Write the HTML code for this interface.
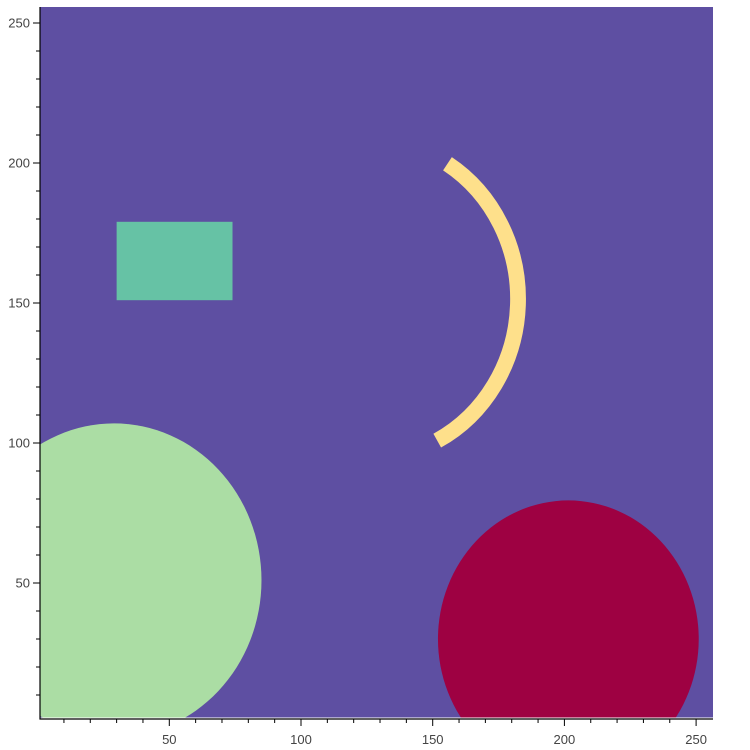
<!DOCTYPE html>
<html><head><meta charset="utf-8"><style>
body{margin:0;background:#fff;width:750px;height:750px;overflow:hidden}
svg{display:block;font-family:"Liberation Sans",sans-serif}
</style></head><body>
<svg id="chart" width="750" height="750"></svg>
<script>
const xTicks=[50,100,150,200,250];
const yTicks=[50,100,150,200,250];
const rectX=[30,74], rectY=[151,179];
const circleGreen=[29,51,56];
const circleRed=[201.5,30,49.5];
const arcYellow=[125.4,151.4,57,6,58,-62.5];
const X0=37.6,XS=2.634,Y0=723,YS=2.8;
const L=40,R=713,T=7,B=719;
function sx(v){return X0+v*XS}
function sy(v){return Y0-v*YS}
const NS='http://www.w3.org/2000/svg';
const svg=document.getElementById('chart');
function mk(t,a,p){const e=document.createElementNS(NS,t);for(const k in a)e.setAttribute(k,a[k]);(p||svg).appendChild(e);return e}
const defs=mk('defs',{});
const cp=mk('clipPath',{id:'clip'},defs);mk('rect',{x:L,y:T,width:R-L,height:B-T-1.5},cp);
const g=mk('g',{'clip-path':'url(#clip)'});


const bg=mk('rect',{x:L,y:T,width:R-L,height:B-T,fill:'#5e4fa2'},g);


const r=mk('rect',{x:sx(rectX[0]),y:sy(rectY[1]),width:(rectX[1]-rectX[0])*XS,height:(rectY[1]-rectY[0])*YS,fill:'#66c2a5'},g);


const c1=mk('ellipse',{cx:sx(circleGreen[0]),cy:sy(circleGreen[1]),rx:circleGreen[2]*XS,ry:circleGreen[2]*YS,fill:'#abdda4'},g);


const c2=mk('ellipse',{cx:sx(circleRed[0]),cy:sy(circleRed[1]),rx:circleRed[2]*XS,ry:circleRed[2]*YS,fill:'#9e0142'},g);


{const [cx,cy,rr,w,a1,a2]=arcYellow;const rad=Math.PI/180;
const p1=[sx(cx+rr*Math.cos(a1*rad)),sy(cy+rr*Math.sin(a1*rad))];
const p2=[sx(cx+rr*Math.cos(a2*rad)),sy(cy+rr*Math.sin(a2*rad))];
const a=mk('path',{d:`M${p1[0]},${p1[1]} A${rr*XS},${rr*YS} 0 0 1 ${p2[0]},${p2[1]}`,fill:'none',stroke:'#fee08b','stroke-width':w*XS},g);

}
const ax=mk('g',{});


mk('line',{x1:L,y1:T,x2:L,y2:B+0.5,stroke:'#000','stroke-width':1.2},ax);
mk('line',{x1:L-0.5,y1:B,x2:R,y2:B,stroke:'#000','stroke-width':1.2},ax);
for(let v=10;v<=250;v+=10){
 const big=v%50===0;
 const x=sx(v);mk('line',{x1:x,y1:B,x2:x,y2:B+(big?7:4),stroke:'#000','stroke-width':1},ax);
 const y=sy(v);mk('line',{x1:L,y1:y,x2:L-(big?7:4),y2:y,stroke:'#000','stroke-width':1},ax);
}
xTicks.forEach(v=>{const t=mk('text',{x:sx(v),y:744,'text-anchor':'middle','font-size':13,fill:'#444'},ax);t.textContent=v;

});
yTicks.forEach(v=>{const t=mk('text',{x:L-10,y:sy(v)+4.5,'text-anchor':'end','font-size':13,fill:'#444'},ax);t.textContent=v;

});
</script>
</body></html>
